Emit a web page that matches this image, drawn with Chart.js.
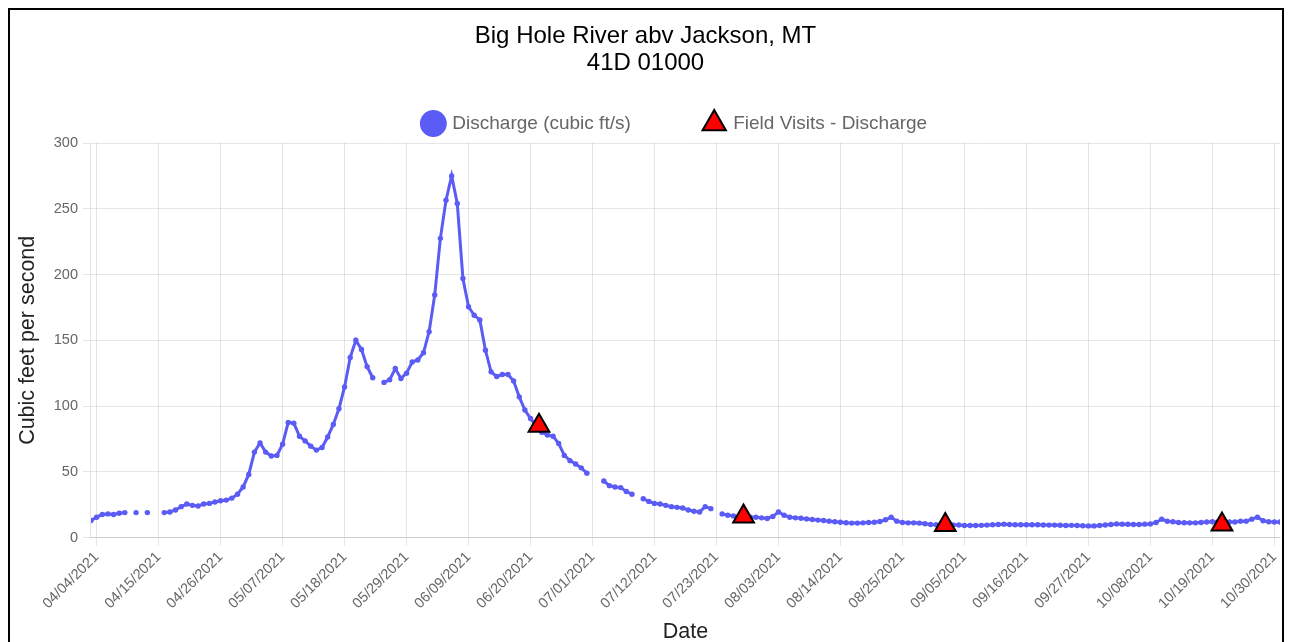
<!DOCTYPE html>
<html>
<head>
<meta charset="utf-8">
<script src="https://cdn.jsdelivr.net/npm/chart.js@4.4.1/dist/chart.umd.min.js"></script>
<style>
  body { margin: 0; background: #fff; overflow: hidden; }
  #frame {
    position: absolute; left: 8px; top: 8px;
    width: 1272px; height: 700px;
    border: 2px solid #000;
  }
  #box { position: relative; width: 1272px; height: 639px; }
</style>
</head>
<body>
<div id="frame"><div id="box"><canvas id="flowChart"></canvas></div></div>
<script>
// daily discharge starting 04/03/2021 (null = no record)
const discharge = [
  13, 15.5, 17.5, 18, 17.5, 18.5, 19, null, 19, null,
  19, null, null, 19, 19.5, 21, 23.5, 25.5, 24.5, 24,
  25.5, 26, 27, 28, 28.5, 30, 33, 38.5, 48, 65,
  72, 65, 62, 62.5, 71, 87.5, 87, 77, 73.5, 69.5,
  66.5, 68.5, 76.5, 86, 98, 114.5, 137, 150, 143, 130,
  121.5, null, 118, 120, 128.5, 121, 125, 133.5, 135, 140.5,
  156.5, 184.5, 227.5, 256.5, 275, 254, 197, 175.5, 169, 165.5,
  142.5, 126, 122.5, 124, 124, 119, 107, 97, 90.5, 85,
  80, 78, 77, 71.5, 62.5, 58.5, 56, 53, 49, null,
  null, 43, 39.5, 38.5, 38, 35, 33, null, 29.5, 27.5,
  26, 25.5, 24.5, 23.5, 23, 22.5, 21, 20, 19.5, 23.5,
  22, null, 18, 17, 16.5, 16, 15.5, 15.5, 15.5, 15,
  14.5, 16, 19.5, 17, 15.5, 15, 14.7, 14.2, 13.7, 13.3,
  13, 12.5, 12, 11.7, 11.3, 11, 11, 11.2, 11.5, 11.7,
  12.2, 13.5, 15.5, 12.5, 11.5, 11.2, 11.2, 11, 10.5, 10,
  9.8, 9.7, 9.7, 9.6, 9.6, 9.2, 9.2, 9.2, 9.3, 9.5,
  9.8, 10, 10.2, 10, 9.8, 9.7, 9.8, 9.8, 9.7, 9.6,
  9.5, 9.5, 9.4, 9.2, 9.3, 9.2, 9, 8.9, 8.9, 9.2,
  9.6, 10, 10.4, 10.2, 10.1, 10, 10, 10.2, 10.4, 11.5,
  14, 12.4, 12, 11.5, 11.3, 11.2, 11.2, 11.5, 11.8, 12,
  12, 11.8, 11.8, 11.8, 12.5, 12.5, 14, 15.5, 12.8, 12,
  11.8, 11.8
];

// field visits: day offset from 04/03/2021 and measured discharge
const visitDays = [79.5, 115.8, 151.6, 200.7];
const visitValues = [85, 16, 9.5, 10];

const tickDays = [1, 12, 23, 34, 45, 56, 67, 78, 89, 100, 111, 122, 133, 144, 155, 166, 177, 188, 199, 210];
const tickLabels = ['04/04/2021', '04/15/2021', '04/26/2021', '05/07/2021', '05/18/2021', '05/29/2021',
  '06/09/2021', '06/20/2021', '07/01/2021', '07/12/2021', '07/23/2021', '08/03/2021', '08/14/2021',
  '08/25/2021', '09/05/2021', '09/16/2021', '09/27/2021', '10/08/2021', '10/19/2021', '10/30/2021'];

const yTicks = [0, 50, 100, 150, 200, 250, 300];

const lineColor = '#5b5bf5';
const fontFam = '"Liberation Sans", Arial, Helvetica, sans-serif';

const flowPoints = discharge.map((v, i) => ({ x: i, y: v }));
const visitPoints = visitDays.map((d, i) => ({ x: d, y: visitValues[i] }));

// legend sits a little right of the canvas centre in the original
const legendShift = {
  id: 'legendShift',
  afterLayout(chart) {
    chart.legend.left += 30;
    chart.legend.right += 30;
  }
};

const ctx = document.getElementById('flowChart').getContext('2d');

new Chart(ctx, {
  type: 'line',
  data: {
    datasets: [
      {
        label: 'Discharge (cubic ft/s)',
        data: flowPoints,
        borderColor: lineColor,
        backgroundColor: lineColor,
        borderWidth: 3,
        pointRadius: 2.7,
        pointBorderWidth: 0,
        pointBackgroundColor: lineColor,
        spanGaps: false,
        tension: 0,
        order: 2
      },
      {
        label: 'Field Visits - Discharge',
        data: visitPoints,
        showLine: false,
        pointStyle: 'triangle',
        pointRadius: 12,
        backgroundColor: '#ff0000',
        borderColor: '#000',
        borderWidth: 2,
        order: 1
      }
    ]
  },
  plugins: [legendShift],
  options: {
    responsive: true,
    maintainAspectRatio: false,
    animation: false,
    layout: { autoPadding: false, padding: { left: 1, right: 2, bottom: 0 } },
    plugins: {
      title: {
        display: true,
        text: ['Big Hole River abv Jackson, MT', '41D 01000'],
        color: '#000',
        font: { family: fontFam, size: 24, weight: 'normal', lineHeight: 1.125 },
        padding: { top: 13, bottom: 0 }
      },
      legend: {
        labels: {
          usePointStyle: true,
          color: '#666',
          padding: 37,
          font: { family: fontFam, size: 19 },
          sort: (a, b) => a.datasetIndex - b.datasetIndex,
          generateLabels: chart => Chart.defaults.plugins.legend.labels.generateLabels(chart)
            .map(item => item.datasetIndex === 0
              ? { ...item, text: item.text + '\u00a0'.repeat(7) }
              : item)
        }
      },
      tooltip: { enabled: false }
    },
    scales: {
      x: {
        type: 'linear',
        min: 0,
        max: discharge.length - 1,
        afterBuildTicks: axis => { axis.ticks = tickDays.map(v => ({ value: v })); },
        afterFit: axis => { axis.paddingRight = 0; },
        ticks: {
          autoSkip: false,
          minRotation: 45,
          maxRotation: 45,
          color: '#666',
          font: { family: fontFam, size: 14.5 },
          callback: v => tickLabels[tickDays.indexOf(v)]
        },
        title: {
          display: true,
          text: 'Date',
          color: '#222',
          font: { family: fontFam, size: 21.5 }
        }
      },
      y: {
        min: 0,
        max: 300,
        afterBuildTicks: axis => { axis.ticks = yTicks.map(v => ({ value: v })); },
        ticks: {
          color: '#666',
          padding: 5,
          font: { family: fontFam, size: 14.5 }
        },
        title: {
          display: true,
          text: 'Cubic feet per second',
          color: '#222',
          padding: { top: 4, bottom: 8 },
          font: { family: fontFam, size: 21.5 }
        }
      }
    }
  }
});
</script>
</body>
</html>
